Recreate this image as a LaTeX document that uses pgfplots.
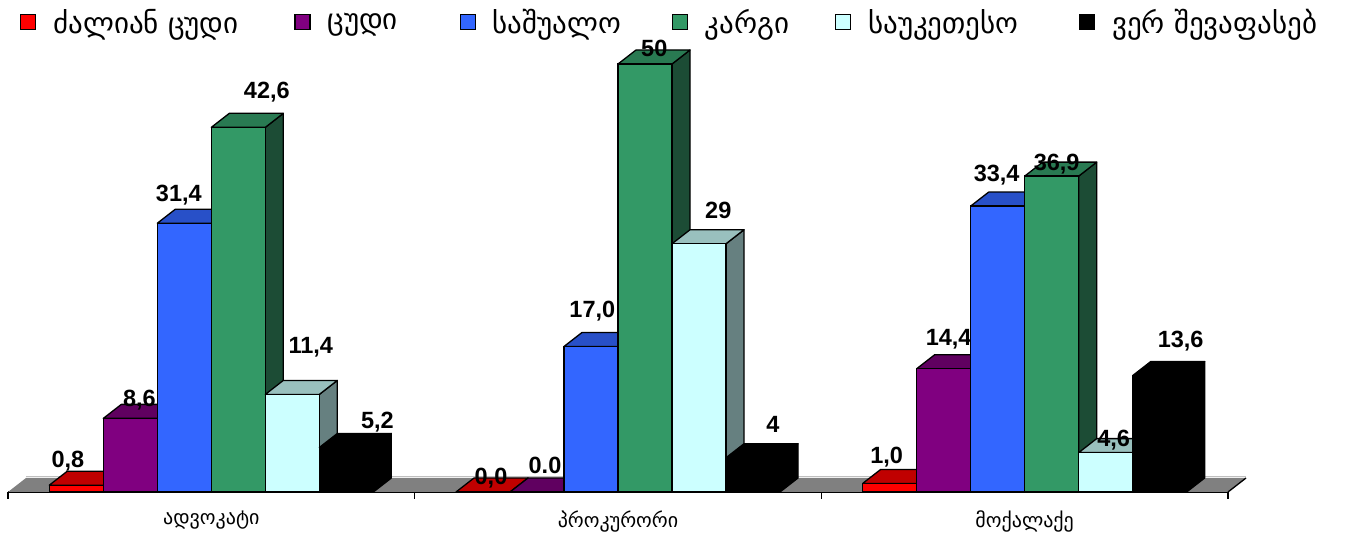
\documentclass[border=0pt]{standalone}
\usepackage{fontspec}
\setmainfont{Liberation Sans}
\newfontfamily\geo{DejaVu Sans}
\usepackage{pgfplots}
\usepackage{pgfplotstable}
\pgfplotsset{compat=1.18}

\pgfdeclareplotmark{blank3d}{}

\definecolor{cR}{HTML}{FF0000}\definecolor{tR}{HTML}{C00000}\definecolor{sR}{HTML}{800000}
\definecolor{cP}{HTML}{800080}\definecolor{tP}{HTML}{600060}\definecolor{sP}{HTML}{400040}
\definecolor{cB}{HTML}{3366FF}\definecolor{tB}{HTML}{2850C8}\definecolor{sB}{HTML}{1A3380}
\definecolor{cG}{HTML}{339966}\definecolor{tG}{HTML}{297A52}\definecolor{sG}{HTML}{1C4C35}
\definecolor{cC}{HTML}{CCFFFF}\definecolor{tC}{HTML}{99C0BE}\definecolor{sC}{HTML}{668080}
\definecolor{cK}{HTML}{000000}
\definecolor{floorc}{HTML}{808080}

% x = group (0,1,2), y = value, label = printed text, lx/ly = label offsets
\pgfplotstableread{
x y label lx ly
0 0.8 0,8 -8.5 18
1 0.0 0,0 8 7
2 1.0 1,0 -3 19.5
}\tR
\pgfplotstableread{
x y label lx ly
0 8.6 8,6 9 12
1 0.0 0.0 8 18
2 14.4 14,4 5 23.7
}\tP
\pgfplotstableread{
x y label lx ly
0 31.4 31,4 -5.5 22
1 17.0 17,0 1.3 28.5
2 33.4 33,4 -1 25
}\tB
\pgfplotstableread{
x y label lx ly
0 42.6 42,6 28.5 29
1 50 50 9.3 7.3
2 36.9 36,9 5 5.4
}\tG
\pgfplotstableread{
x y label lx ly
0 11.4 11,4 18.5 41
1 29 29 19.3 25
2 4.6 4,6 8 6
}\tC
\pgfplotstableread{
x y label lx ly
0 5.2 5,2 31 18.5
1 4 4 20 25
2 13.6 13,6 21 27.6
}\tK

\pgfplotsset{
  faces/.style n args={3}{%
    forget plot, only marks, scatter, mark=blank3d, point meta=y,
    visualization depends on={rawy \as \hv},
    scatter/@pre marker code/.code={%
      \pgfmathsetlengthmacro\HHm{\hv*8.56pt}%
      \filldraw[fill=#3, draw=black, line width=1.3pt, line join=round]
        (#1+27pt,0pt) -- (#1+45pt,14pt) -- (#1+45pt,14pt-\HHm) -- (#1+27pt,-\HHm) -- cycle;
      \filldraw[fill=#2, draw=black, line width=1.3pt, line join=round]
        (#1-27pt,0pt) -- (#1+27pt,0pt) -- (#1+45pt,14pt) -- (#1-9pt,14pt) -- cycle;
    },
    scatter/@post marker code/.code={},
  },
  front/.style n args={2}{%
    ybar, bar width=54pt, bar shift=#1, fill=#2, draw=black, line width=1.3pt,
    nodes near coords, point meta=explicit symbolic,
    visualization depends on={\thisrow{lx} \as \lx},
    visualization depends on={\thisrow{ly} \as \ly},
    every node near coord/.append style={anchor=base, xshift={#1+\lx pt}, yshift=\ly pt,
      font=\bfseries\fontsize{23.5}{26}\selectfont, inner sep=0pt, text=black},
    legend image code/.code={\draw[fill=#2, draw=black, line width=1.2pt] (0pt,-7.5pt) rectangle (15pt,7.5pt);},
  },
}

\begin{document}
\begin{tikzpicture}
\begin{axis}[
  at={(8pt,43pt)}, anchor=south west,
  x=406.667pt, y=8.56pt,
  xmin=-0.5, xmax=2.5, ymin=0, ymax=52,
  clip=false, clip marker paths=true,
  axis x line*=bottom, axis y line=none,
  x axis line style={line width=1.5pt, -},
  xtick={-0.5,0.5,1.5,2.5}, xticklabels={},
  tick align=outside, major tick length=7pt,
  xtick style={line width=1.3pt, black},
  extra x ticks={0,1,2},
  extra x tick labels={ადვოკატი,პროკურორი,მოქალაქე},
  extra x tick style={major tick length=0pt, tick style={draw=none},
    xticklabel style={font=\geo\fontsize{20}{23}\selectfont, yshift=-15pt}},
  legend columns=6,
  legend cell align=left,
  legend style={draw=none, fill=none, at={(0.0098,1.0559)}, anchor=west,
    inner sep=0pt, nodes={inner sep=0pt},
    font=\geo\fontsize{29}{33}\selectfont,
    /tikz/every even column/.append style={column sep=49pt},
    /tikz/every odd column/.append style={column sep=17pt}},
]
\fill[floorc] (axis cs:-0.5,0) -- (axis cs:2.5,0) -- ([shift={(18pt,14pt)}]axis cs:2.5,0) -- ([shift={(18pt,14pt)}]axis cs:-0.5,0) -- cycle;
\draw[black!25, line width=1.5pt] ([shift={(18pt,15.5pt)}]axis cs:-0.5,0) -- ([shift={(18pt,15.5pt)}]axis cs:2.5,0);
\draw[black, line width=1.3pt] (axis cs:2.5,0) -- ([shift={(18pt,14pt)}]axis cs:2.5,0);

\addplot[faces={-135pt}{tR}{sR}] table[x=x,y=y]{\tR};
\addplot[front={-135pt}{cR}] table[x=x,y=y,meta=label]{\tR};
\addlegendentry{\makebox[192pt][l]{ძალიან ცუდი}}
\addplot[faces={-81pt}{tP}{sP}] table[x=x,y=y]{\tP};
\addplot[front={-81pt}{cP}] table[x=x,y=y,meta=label]{\tP};
\addlegendentry{\makebox[83pt][l]{ცუდი}}
\addplot[faces={-27pt}{tB}{sB}] table[x=x,y=y]{\tB};
\addplot[front={-27pt}{cB}] table[x=x,y=y,meta=label]{\tB};
\addlegendentry{\makebox[130pt][l]{საშუალო}}
\addplot[faces={27pt}{tG}{sG}] table[x=x,y=y]{\tG};
\addplot[front={27pt}{cG}] table[x=x,y=y,meta=label]{\tG};
\addlegendentry{\makebox[81pt][l]{კარგი}}
\addplot[faces={81pt}{tC}{sC}] table[x=x,y=y]{\tC};
\addplot[front={81pt}{cC}] table[x=x,y=y,meta=label]{\tC};
\addlegendentry{\makebox[162pt][l]{საუკეთესო}}
\addplot[faces={135pt}{cK}{cK}] table[x=x,y=y]{\tK};
\addplot[front={135pt}{cK}] table[x=x,y=y,meta=label]{\tK};
\addlegendentry{\makebox[229pt][l]{ვერ შევაფასებ}}
\end{axis}
\pgfresetboundingbox
\useasboundingbox (0,0) rectangle (1349pt,535pt);
\end{tikzpicture}
\end{document}
